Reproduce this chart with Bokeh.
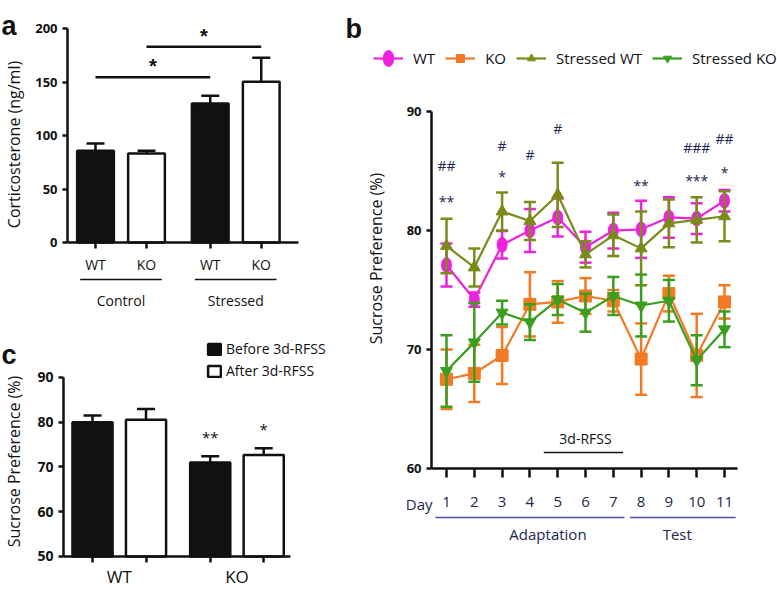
import math
from bokeh.plotting import figure
from bokeh.models import Range1d, FixedTicker, Legend, LegendItem
from bokeh.layouts import row, column
from bokeh.core.properties import value
from bokeh.embed import file_html
from bokeh.resources import INLINE

FONT = "Open Sans"
INK = "#111111"
NAVY = "#24264f"
BLUE = "#4b4fb0"

# ---------------- panel a data ----------------
a_groups = ["Control", "Control", "Stressed", "Stressed"]
a_genotypes = ["WT", "KO", "WT", "KO"]
a_mean = [85.7, 83.2, 130.0, 150.2]
a_sem = [6.8, 2.5, 7.2, 22.4]
a_yticks = [0, 50, 100, 150, 200]
a_sig_pairs = [(0, 2), (1, 3)]
a_sig_level = [154.5, 183.0]
a_sig_text = ["*", "*"]
a_ylabel = "Corticosterone (ng/ml)"

# ---------------- panel b data ----------------
days = [1, 2, 3, 4, 5, 6, 7, 8, 9, 10, 11]
b_series = ["WT", "KO", "Stressed WT", "Stressed KO"]
wt_mean = [77.1, 74.2, 78.8, 80.0, 81.1, 78.6, 80.0, 80.1, 81.1, 81.0, 82.5]
wt_sem = [1.8, 0.6, 1.15, 1.8, 1.6, 1.3, 1.5, 2.4, 1.7, 1.3, 0.9]
ko_mean = [67.5, 68.0, 69.5, 73.8, 74.0, 74.5, 74.1, 69.2, 74.7, 69.5, 74.0]
ko_sem = [2.5, 2.4, 2.4, 2.7, 1.75, 1.5, 0.9, 3.0, 1.5, 3.5, 1.4]
swt_mean = [78.7, 76.9, 81.6, 80.8, 83.0, 78.0, 79.6, 78.5, 80.6, 80.9, 81.2]
swt_sem = [2.3, 1.6, 1.6, 1.6, 2.7, 1.1, 1.75, 3.1, 2.0, 1.9, 2.1]
sko_mean = [68.2, 70.6, 73.1, 72.3, 74.2, 73.1, 74.5, 73.7, 74.1, 69.1, 71.7]
sko_sem = [3.0, 3.3, 1.0, 1.5, 1.3, 1.6, 1.6, 2.6, 1.75, 2.1, 1.5]
b_means = [wt_mean, ko_mean, swt_mean, sko_mean]
b_sems = [wt_sem, ko_sem, swt_sem, sko_sem]
b_yticks = [60, 70, 80, 90]
b_sig_day = [1, 1, 3, 3, 4, 5, 8, 10, 10, 11, 11]
b_sig_y = [85.5, 82.8, 87.15, 84.9, 86.4, 88.6, 84.1, 87.0, 84.55, 87.7, 85.2]
b_sig_text = ["##", "**", "#", "*", "#", "#", "**", "###", "***", "##", "*"]
b_phases = ["Adaptation", "Test"]
b_phase_days = [(1, 7), (8, 11)]
b_phase_label_x = [4.65, 9.3]
b_stress_label = "3d-RFSS"
b_stress_days = (5, 7)
b_ylabel = "Sucrose Preference (%)"
b_xlabel = "Day"

# ---------------- panel c data ----------------
c_genotypes = ["WT", "KO"]
c_conditions = ["Before 3d-RFSS", "After 3d-RFSS"]
c_before_mean = [80.0, 71.0]
c_before_sem = [1.5, 1.4]
c_after_mean = [80.55, 72.7]
c_after_sem = [2.4, 1.5]
c_sig_text = ["**", "*"]          # KO before, KO after
c_sig_y = [77.7, 79.4]
c_yticks = [50, 60, 70, 80, 90]
c_ylabel = "Sucrose Preference (%)"

B_STYLE = {
    "WT": dict(color="#ee22dd", marker="ellipse"),
    "KO": dict(color="#f27a24", marker="square"),
    "Stressed WT": dict(color="#7b8b1a", marker="triangle"),
    "Stressed KO": dict(color="#3a9e1f", marker="inverted_triangle"),
}


def make_fig(width, height, xr, yr):
    p = figure(width=width, height=height, x_range=Range1d(*xr), y_range=Range1d(*yr),
               output_backend="svg", toolbar_location=None,
               min_border_left=0, min_border_right=0, min_border_top=0, min_border_bottom=0)
    p.outline_line_color = None
    p.xgrid.visible = False
    p.ygrid.visible = False
    p.background_fill_color = None
    p.border_fill_color = None
    return p


def style_axis(ax, size="13px", bold=True, tick_out=5):
    ax.axis_line_width = 2.5
    ax.axis_line_color = INK
    ax.major_tick_line_width = 2.5
    ax.major_tick_line_color = INK
    ax.major_tick_in = 0
    ax.major_tick_out = tick_out
    ax.minor_tick_line_color = None
    ax.major_label_text_font = FONT
    ax.major_label_text_font_size = size
    ax.major_label_text_font_style = "bold" if bold else "normal"
    ax.major_label_text_color = INK


def letter(p, text, x, y):
    p.text(x=[x], y=[y], text=[text], text_font=value("Liberation Sans"),
           text_font_style="bold", text_font_size="27px", text_color=INK,
           text_baseline="alphabetic", text_align="left")


def ylabel(p, text, x, y, size="16px"):
    p.text(x=[x], y=[y], text=[text], angle=math.pi / 2, text_font=value(FONT),
           text_font_size=size, text_color=INK, text_align="center", text_baseline="middle")


# =============== panel a ===============
GAP_A = 0.25
a_group_names = list(dict.fromkeys(a_groups))
a_x = [i + GAP_A * a_group_names.index(g) for i, g in enumerate(a_groups)]
pa = make_fig(338, 312, (-1.863, 4.765), (-65.42, 226.17))
a_fill = [INK if g == "WT" else "white" for g in a_genotypes]
a_top = [m + s for m, s in zip(a_mean, a_sem)]
pa.segment(x0=a_x, y0=a_mean, x1=a_x, y1=a_top, line_color=INK, line_width=2.5)
pa.scatter(x=a_x, y=a_top, marker="dash", size=18, line_color=INK, line_width=2.5)
pa.vbar(x=a_x, top=a_mean, bottom=0, width=0.72, fill_color=a_fill, line_color=INK, line_width=2.5)
for (i, j), lvl, t in zip(a_sig_pairs, a_sig_level, a_sig_text):
    pa.segment(x0=[a_x[i]], x1=[a_x[j]], y0=[lvl], y1=[lvl], line_color=INK, line_width=2.5)
    pa.text(x=[(a_x[i] + a_x[j]) / 2], y=[lvl + 12], text=[t], text_font=value("Liberation Sans"),
            text_font_style="bold", text_font_size="20px", text_align="center",
            text_baseline="middle", text_color=INK, y_offset=2)
for g in a_group_names:
    gx = [x for x, gg in zip(a_x, a_groups) if gg == g]
    c = sum(gx) / len(gx)
    pa.segment(x0=[c - 0.8], x1=[c + 0.8], y0=[-34.6], y1=[-34.6], line_color=INK, line_width=1.5)
    pa.text(x=[c], y=[-54], text=[g], text_font=value(FONT), text_font_size="14px",
            text_align="center", text_baseline="middle", text_color=INK)
style_axis(pa.yaxis[0])
pa.yaxis.fixed_location = -0.549
pa.yaxis.ticker = FixedTicker(ticks=a_yticks)
pa.yaxis.bounds = (0, 200)
style_axis(pa.xaxis[0], size="14px", bold=False, tick_out=6)
pa.xaxis.fixed_location = 0
pa.xaxis.bounds = (-0.549, 3.98)
pa.xaxis.ticker = FixedTicker(ticks=a_x)
pa.xaxis.major_label_overrides = {x: g for x, g in zip(a_x, a_genotypes)}
pa.xaxis.major_label_standoff = 6
ylabel(pa, a_ylabel, -1.608, 91.6)
letter(pa, "a", -1.843, 202.8)

# =============== panel c ===============
GAP_C = 0.2
c_x_before = [2 * k + GAP_C * k for k in range(len(c_genotypes))]
c_x_after = [x + 1 for x in c_x_before]
pc = make_fig(338, 278, (-1.720, 4.598), (42.40, 104.52))
rend_c = []
for xs, m, s, fill in [(c_x_before, c_before_mean, c_before_sem, INK),
                       (c_x_after, c_after_mean, c_after_sem, "white")]:
    top = [a + b for a, b in zip(m, s)]
    pc.segment(x0=xs, y0=m, x1=xs, y1=top, line_color=INK, line_width=2.5)
    pc.scatter(x=xs, y=top, marker="dash", size=18, line_color=INK, line_width=2.5)
    r = pc.vbar(x=xs, top=m, bottom=50, width=0.75, fill_color=fill, line_color=INK, line_width=2.5)
    rend_c.append(r)
ko_i = c_genotypes.index("KO")
pc.text(x=[c_x_before[ko_i], c_x_after[ko_i]], y=c_sig_y, text=c_sig_text,
        text_font=value(FONT), text_font_size="15px", text_align="center",
        text_baseline="middle", text_color=INK, y_offset=4)
style_axis(pc.yaxis[0], size="14px")
pc.yaxis.fixed_location = -0.542
pc.yaxis.ticker = FixedTicker(ticks=c_yticks)
pc.yaxis.bounds = (50, 90)
style_axis(pc.xaxis[0], size="17px", bold=False, tick_out=6)
c_centers = [(b + a) / 2 for b, a in zip(c_x_before, c_x_after)]
pc.xaxis.fixed_location = 50
pc.xaxis.bounds = (-0.542, 3.70)
pc.xaxis.ticker = FixedTicker(ticks=c_centers, minor_ticks=c_x_before + c_x_after)
pc.xaxis.major_label_overrides = {x: g for x, g in zip(c_centers, c_genotypes)}
pc.xaxis.major_tick_line_color = None
pc.xaxis.minor_tick_line_color = INK
pc.xaxis.minor_tick_line_width = 2.5
pc.xaxis.minor_tick_in = 0
pc.xaxis.minor_tick_out = 6
pc.xaxis.major_label_standoff = 3
leg_c = Legend(items=[LegendItem(label=c_conditions[0], renderers=[rend_c[0]]),
                      LegendItem(label=c_conditions[1], renderers=[rend_c[1]])],
               location=(206, 210), orientation="vertical", padding=0, margin=0, spacing=3,
               glyph_height=14, glyph_width=16, label_height=14, label_standoff=4,
               label_text_font=FONT, label_text_font_size="14px", label_text_color=INK,
               border_line_color=None, background_fill_alpha=0)
pc.add_layout(leg_c, "center")
ylabel(pc, c_ylabel, -1.477, 71.23)
letter(pc, "c", -1.70, 94.92)

# =============== panel b ===============
pb = make_fig(439, 590, (-2.885, 12.906), (49.75, 99.33))
legend_items = []
for name, m, s in zip(b_series, b_means, b_sems):
    st = B_STYLE[name]
    col = st["color"]
    lo = [a - b for a, b in zip(m, s)]
    hi = [a + b for a, b in zip(m, s)]
    pb.segment(x0=days, y0=lo, x1=days, y1=hi, line_color=col, line_width=2.5)
    pb.scatter(x=days + days, y=lo + hi, marker="dash", size=12, line_color=col, line_width=2.5)
    lr = pb.line(x=days, y=m, line_color=col, line_width=2.2)
    if st["marker"] == "ellipse":
        mr = pb.ellipse(x=days, y=m, width=10, height=15, width_units="screen",
                        height_units="screen", fill_color=col, line_color=col)
    else:
        mr = pb.scatter(x=days, y=m, marker=st["marker"], size=12, fill_color=col, line_color=col)
    legend_items.append(LegendItem(label=name, renderers=[lr, mr]))

hash_idx = [k for k, t in enumerate(b_sig_text) if t.startswith("#")]
star_idx = [k for k, t in enumerate(b_sig_text) if t.startswith("*")]
for idx, off in [(hash_idx, 0), (star_idx, 4)]:
    pb.text(x=[b_sig_day[k] for k in idx], y=[b_sig_y[k] for k in idx],
            text=[b_sig_text[k] for k in idx], text_font=value(FONT), text_font_size="14px",
            text_align="center", text_baseline="middle", text_color=NAVY, y_offset=off)

s0, s1 = b_stress_days
pb.segment(x0=[s0 - 0.5], x1=[s1 + 0.35], y0=[61.34], y1=[61.34], line_color=INK, line_width=1.5)
pb.text(x=[(s0 + s1) / 2], y=[62.5], text=[b_stress_label], text_font=value(FONT),
        text_font_size="14px", text_align="center", text_baseline="middle", text_color=INK)
for ph, (d0, d1), lx in zip(b_phases, b_phase_days, b_phase_label_x):
    pb.segment(x0=[d0 - 0.4], x1=[d1 + 0.4], y0=[55.88], y1=[55.88], line_color=BLUE, line_width=1.5)
    pb.text(x=[lx], y=[54.5], text=[ph], text_font=value(FONT), text_font_size="15px",
            text_align="center", text_baseline="middle", text_color=NAVY)
pb.text(x=[0.496], y=[57.06], text=[b_xlabel], text_font=value(FONT), text_font_size="15px",
        text_align="right", text_baseline="middle", text_color=NAVY)

style_axis(pb.yaxis[0], size="13px")
pb.yaxis.fixed_location = 0.46
pb.yaxis.ticker = FixedTicker(ticks=b_yticks)
pb.yaxis.bounds = (60, 90)
style_axis(pb.xaxis[0], size="15px", bold=False, tick_out=9)
pb.xaxis.major_label_text_color = NAVY
pb.xaxis.fixed_location = 60
pb.xaxis.bounds = (0.46, 11.47)
pb.xaxis.ticker = FixedTicker(ticks=days)
pb.xaxis.major_label_standoff = 19
leg_b = Legend(items=legend_items, location=(35, 522), orientation="horizontal",
               padding=0, margin=0, spacing=10, glyph_height=20, glyph_width=30,
               label_height=20, label_standoff=10, label_text_font=FONT,
               label_text_font_size="15px", label_text_color=INK,
               border_line_color=None, background_fill_alpha=0)
pb.add_layout(leg_b, "center")
ylabel(pb, b_ylabel, -1.554, 77.65)
letter(pb, "b", -2.633, 96.97)

layout = row(column(pa, pc), pb)
open("out.html", "w").write(file_html(layout, INLINE))
